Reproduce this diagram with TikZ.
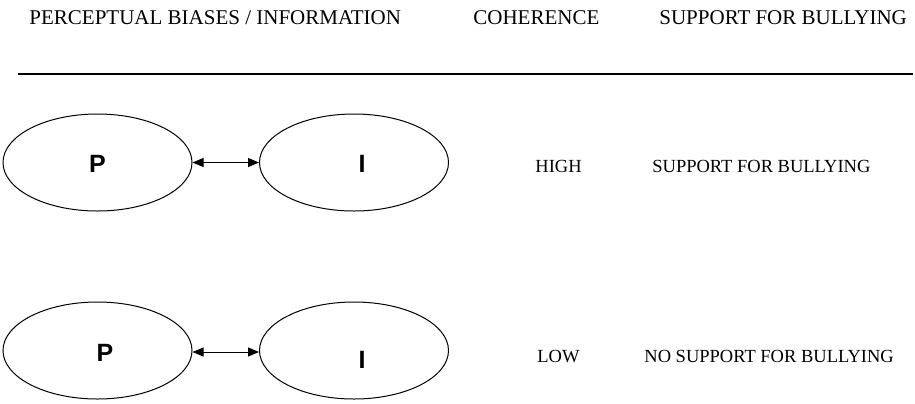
\documentclass[tikz,border=0pt]{standalone}
\usepackage{fontspec}
\setmainfont{Liberation Serif}
\newfontfamily\letterfont{Liberation Sans}
\usetikzlibrary{shapes.geometric,arrows.meta}

\begin{document}
\begin{tikzpicture}[x=0.5pt,y=-0.5pt,
  bubble/.style={draw,ellipse,line width=0.5pt,inner sep=0pt,minimum width=94.5pt,minimum height=48.5pt},
  letter/.style={inner sep=0pt,font=\letterfont\bfseries\fontsize{12.5}{14}\selectfont},
  head/.style={inner sep=0pt,anchor=base west,font=\fontsize{10.5}{12}\selectfont},
  row/.style={inner sep=0pt,anchor=base west,font=\fontsize{9.25}{11}\selectfont},
  link/.style={line width=0.5pt,{Triangle[length=5.5pt,width=4.5pt]}-{Triangle[length=5.5pt,width=4.5pt]}}]
\useasboundingbox (0,0) rectangle (915,403);
%%% the column titles and the rule under them
\node[head] (tPI) at (29,24) {PERCEPTUAL BIASES / INFORMATION};
\node[head] (tCo) at (473,24) {COHERENCE};
\node[head] (tSu) at (659,24) {SUPPORT FOR BULLYING};
\coordinate (ruleL) at (18,74);
\coordinate (ruleR) at (913,74);
\draw[line width=0.6pt] (ruleL) -- (ruleR);
%%% first row: high coherence
\node[bubble] (pHigh) at (97.5,162.5) {};
\node[bubble] (iHigh) at (354,162.5) {};
\node[letter] (pHighL) at ([shift={(0,1)}]pHigh.center) {P};
\node[letter] (iHighL) at ([shift={(8,1)}]iHigh.center) {I};
\draw[link] (pHigh) -- (iHigh);
\node[row] (cHigh) at (535,172) {HIGH};
\node[row] (sHigh) at (652,172) {SUPPORT FOR BULLYING};
%%% second row: low coherence
\node[bubble] (pLow) at (97.5,350.5) {};
\node[bubble] (iLow) at (354,350.5) {};
\node[letter] (pLowL) at ([shift={(7.5,2.5)}]pLow.center) {P};
\node[letter] (iLowL) at ([shift={(8,9.5)}]iLow.center) {I};
\draw[link] ([yshift=-0.75pt]pLow.east) -- ([yshift=-0.75pt]iLow.west);
\node[row] (cLow) at (537,362) {LOW};
\node[row] (sLow) at (644,362) {NO SUPPORT FOR BULLYING};
\end{tikzpicture}
\end{document}
